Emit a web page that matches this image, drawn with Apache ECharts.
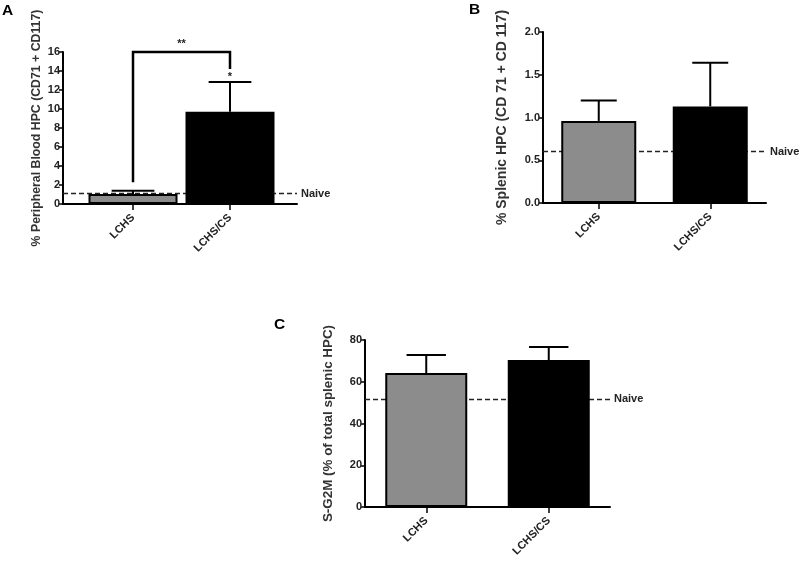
<!DOCTYPE html>
<html>
<head>
<meta charset="utf-8">
<script src="https://cdn.jsdelivr.net/npm/echarts@6/dist/echarts.min.js"></script>
<style>html,body{margin:0;padding:0;background:#fff}#c{width:800px;height:561px}</style>
</head>
<body>
<div id="c"></div>
<script>
const categories = ['LCHS', 'LCHS/CS'];
const barColors = ['#8c8c8c', '#000000'];
// Panel A
const meanA = [1.05, 9.7];
const errA = [0.35, 3.15];
const naiveA = 1.1;
const bracketA = [16, 2.3, 14.2]; // top, left leg end, right leg end
// Panel B
const meanB = [0.96, 1.13];
const errB = [0.24, 0.51];
const naiveB = 0.6;
// Panel C
const meanC = [64.2, 70.4];
const errC = [8.6, 6.2];
const naiveC = 51.7;

const FONT = 'Liberation Sans, Arial, sans-serif';
const TXT = '#222';

const chart = echarts.init(document.getElementById('c'));

function barData(means) {
  return means.map((v, i) => ({ value: v, itemStyle: { color: barColors[i] } }));
}
function errSeries(xi, yi, means, errs, barW) {
  return {
    type: 'custom', xAxisIndex: xi, yAxisIndex: yi, z: 4,
    data: means.map((m, i) => [i, m, errs[i]]),
    renderItem: function (params, api) {
      const x = api.value(0), y = api.value(1), e = api.value(2);
      const p0 = api.coord([x, y]);
      const p1 = api.coord([x, y + e]);
      const half = barW * 0.24;
      const st = { stroke: '#000', lineWidth: 2 };
      return { type: 'group', children: [
        { type: 'line', shape: { x1: p0[0], y1: p0[1], x2: p1[0], y2: p1[1] }, style: st },
        { type: 'line', shape: { x1: p1[0] - half, y1: p1[1], x2: p1[0] + half, y2: p1[1] }, style: st }
      ]};
    }
  };
}
function naiveSeries(xi, yi, val) {
  return {
    type: 'line', xAxisIndex: xi, yAxisIndex: yi, data: [], z: 1,
    markLine: {
      z: 1, silent: true, symbol: ['none', 'none'],
      lineStyle: { color: '#222', type: [5, 3], width: 1.3 },
      label: { show: true, position: 'end', formatter: 'Naive', color: TXT, fontFamily: FONT, fontWeight: 'bold', fontSize: 11, distance: 4 },
      data: [{ yAxis: val }]
    }
  };
}
function valueYAxis(gi, min, max, interval, name, gap, nameSize, dec) {
  return {
    type: 'value', gridIndex: gi, min: min, max: max, interval: interval,
    name: name, nameLocation: 'middle', nameGap: gap,
    nameTextStyle: { color: '#333', fontFamily: FONT, fontWeight: 'bold', fontSize: nameSize },
    axisLine: { show: true, lineStyle: { color: '#000', width: 2 } },
    axisTick: { show: true, length: 4, lineStyle: { color: '#000', width: 1.5 } },
    axisLabel: { color: TXT, fontFamily: FONT, fontWeight: 'bold', fontSize: 11, margin: 3,
      formatter: v => dec ? v.toFixed(dec) : String(v) },
    splitLine: { show: false }
  };
}
function catXAxis(gi, showLine) {
  return {
    type: 'category', gridIndex: gi, data: categories,
    axisLine: { show: showLine, lineStyle: { color: '#000', width: 2 } },
    axisTick: { show: true, alignWithLabel: true, length: 6, lineStyle: { color: '#000', width: 1.5 } },
    axisLabel: { color: TXT, fontFamily: FONT, fontWeight: 'bold', fontSize: 11, rotate: 45, margin: 12 },
    splitLine: { show: false }
  };
}
const panelTitle = (t, l, tp) => ({ text: t, left: l, top: tp, padding: 0,
  textStyle: { fontFamily: FONT, fontWeight: 'bold', fontSize: 15.5, color: '#000' } });

const option = {
  animation: false,
  backgroundColor: '#fff',
  title: [
    panelTitle('A', 2, 3),
    panelTitle('B', 469, 2),
    panelTitle('C', 274, 317)
  ],
  grid: [
    { left: 63, top: 52, width: 234, height: 152 },
    { left: 84.5, top: 52, width: 194, height: 152 },
    { left: 543, top: 32, width: 223, height: 171 },
    { left: 365, top: 340, width: 245, height: 167 }
  ],
  xAxis: [
    { type: 'value', gridIndex: 0, min: 0, max: 1, axisLine: { show: true, lineStyle: { color: '#000', width: 2 } },
      axisTick: { show: false }, axisLabel: { show: false }, splitLine: { show: false } },
    catXAxis(1, false),
    catXAxis(2, true),
    catXAxis(3, true)
  ],
  yAxis: [
    valueYAxis(0, 0, 16, 2, '% Peripheral Blood HPC (CD71 + CD117)', 20, 12.3, 0),
    { type: 'value', gridIndex: 1, min: 0, max: 16, show: false },
    valueYAxis(2, 0, 2, 0.5, '% Splenic HPC (CD 71 + CD 117)', 34, 14, 1),
    valueYAxis(3, 0, 80, 20, 'S-G2M (% of total splenic HPC)', 30, 13.4, 0)
  ],
  series: [
    naiveSeries(0, 0, naiveA),
    { type: 'bar', xAxisIndex: 1, yAxisIndex: 1, z: 3, barWidth: 89, data: barData(meanA),
      itemStyle: { borderColor: '#000', borderWidth: 2 } },
    errSeries(1, 1, meanA, errA, 89),
    {
      type: 'custom', xAxisIndex: 1, yAxisIndex: 1, z: 5,
      data: [[0, 1, bracketA[0], bracketA[1], bracketA[2]]],
      renderItem: function (params, api) {
        const top = api.value(2);
        const pL = api.coord([api.value(0), top]);
        const pR = api.coord([api.value(1), top]);
        const pLe = api.coord([api.value(0), api.value(3)]);
        const pRe = api.coord([api.value(1), api.value(4)]);
        const pStar = api.coord([api.value(1), meanA[1] + errA[1]]);
        const st = { stroke: '#000', lineWidth: 2.5 };
        return { type: 'group', children: [
          { type: 'polyline', shape: { points: [[pLe[0], pLe[1]], [pL[0], pL[1]], [pR[0], pR[1]], [pRe[0], pRe[1]]] }, style: Object.assign({ fill: 'none' }, st) },
          { type: 'text', style: { x: (pL[0] + pR[0]) / 2, y: pL[1] - 3, text: '**', fill: TXT, font: 'bold 11px ' + FONT, textAlign: 'center', textVerticalAlign: 'bottom' } },
          { type: 'text', style: { x: pStar[0], y: pStar[1] + 1, text: '*', fill: TXT, font: 'bold 11px ' + FONT, textAlign: 'center', textVerticalAlign: 'bottom' } }
        ]};
      }
    },
    naiveSeries(2, 2, naiveB),
    { type: 'bar', xAxisIndex: 2, yAxisIndex: 2, z: 3, barWidth: 75, data: barData(meanB),
      itemStyle: { borderColor: '#000', borderWidth: 2 } },
    errSeries(2, 2, meanB, errB, 75),
    naiveSeries(3, 3, naiveC),
    { type: 'bar', xAxisIndex: 3, yAxisIndex: 3, z: 3, barWidth: 82, data: barData(meanC),
      itemStyle: { borderColor: '#000', borderWidth: 2 } },
    errSeries(3, 3, meanC, errC, 82)
  ]
};
chart.setOption(option);
</script>
</body>
</html>
